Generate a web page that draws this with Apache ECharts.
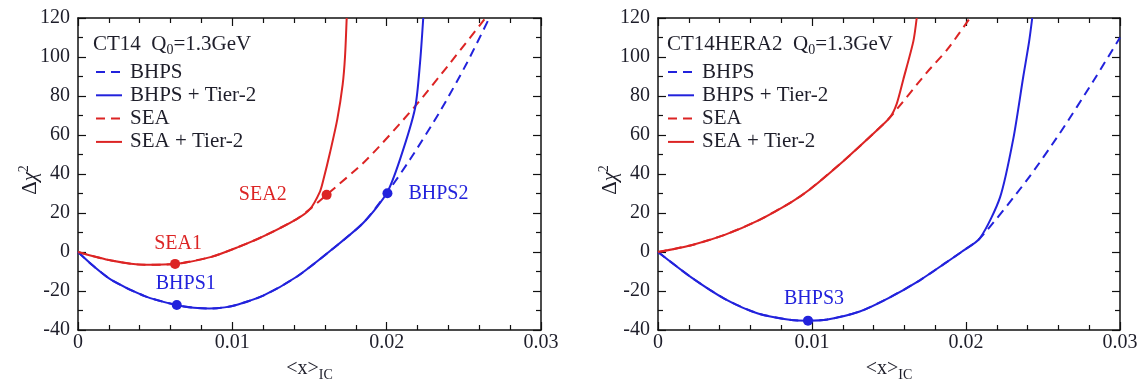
<!DOCTYPE html>
<html>
<head>
<meta charset="utf-8">
<script src="https://cdn.jsdelivr.net/npm/echarts@6/dist/echarts.min.js"></script>
<style>
  html, body { margin: 0; padding: 0; background: #fff; }
  #chart { width: 1142px; height: 387px; }
</style>
</head>
<body>
<div id="chart"></div>
<script>
// CT14 panel (left)
const ct14BhpsX = [0, 0.001, 0.00216, 0.00432, 0.00637, 0.0075, 0.0085, 0.0095, 0.01037, 0.012, 0.01417, 0.01633, 0.01849, 0.02]
const ct14BhpsY = [0, -7.2, -14.3, -22.6, -27.2, -28.6, -29.0, -28.4, -26.9, -22.4, -12.7, 0.5, 15, 30.1]
const ct14BhpsDashX = [0.02151, 0.02346, 0.02519, 0.02665]
const ct14BhpsDashY = [47.4, 72.1, 96.8, 120]
const ct14BhpsTier2X = [0.02086, 0.02184, 0.02216, 0.02237]
const ct14BhpsTier2Y = [47.4, 73.7, 96.8, 120]
const ct14SeaX = [0, 0.00216, 0.00432, 0.00626, 0.00864, 0.01037, 0.012, 0.01417, 0.01503]
const ct14SeaY = [0, -4.4, -6.6, -6.2, -2.5, 2.5, 8.0, 16.9, 22]
const ct14SeaDashX = [0.01611, 0.01871, 0.02173, 0.0241, 0.0264]
const ct14SeaDashY = [29.3, 47.4, 73.7, 96.8, 120]
const ct14SeaTier2X = [0.01568, 0.0159, 0.01633, 0.0168, 0.01715, 0.0173, 0.01741]
const ct14SeaTier2Y = [31, 37, 51, 68, 86, 100, 120]
const ct14PointNames = ['SEA1', 'SEA2', 'BHPS1', 'BHPS2']
const ct14PointX = [0.00629, 0.01611, 0.0064, 0.02005]
const ct14PointY = [-6.1, 29.3, -27.2, 30.1]

// CT14HERA2 panel (right)
const hera2BhpsX = [0, 0.00216, 0.00433, 0.00649, 0.00866, 0.00974, 0.011, 0.0131, 0.015, 0.017, 0.0186, 0.0197, 0.02091]
const hera2BhpsY = [0, -13, -24, -31.5, -34.9, -35.2, -34.6, -30.5, -23.5, -14.5, -6, 0, 7.1]
const hera2BhpsDashX = [0.02394, 0.0261, 0.02827, 0.03]
const hera2BhpsDashY = [36.7, 61, 87.7, 110]
const hera2BhpsTier2X = [0.02221, 0.02307, 0.02372, 0.0241, 0.0243]
const hera2BhpsTier2Y = [28, 58, 90, 108, 120]
const hera2SeaX = [0, 0.00216, 0.00433, 0.00649, 0.00866, 0.00987, 0.01203, 0.0142, 0.01506]
const hera2SeaY = [0, 3.5, 8.8, 16.1, 25.6, 32.2, 46.6, 62.3, 69]
const hera2SeaDashX = [0.01745, 0.0188, 0.02026]
const hera2SeaDashY = [92, 104, 120]
const hera2SeaTier2X = [0.0155, 0.01593, 0.01658, 0.0168]
const hera2SeaTier2Y = [76, 88.5, 108, 120]
const hera2PointNames = ['BHPS3']
const hera2PointX = [0.00974]
const hera2PointY = [-35.2]

const legendNames = ['BHPS', 'BHPS + Tier-2', 'SEA', 'SEA + Tier-2']
const xTicks = { min: 0, max: 0.03, interval: 0.01 }
const yTicks = { min: -40, max: 120, interval: 20 }

const FONT = '"Liberation Serif", "DejaVu Serif", serif'
const RED = '#dc2424'
const BLUE = '#2222dc'
const TEXT = '#1e1e2a'

function pairs(xs, ys) {
  return xs.map((x, i) => [x, ys[i]])
}

function curve(name, xs, ys, color, dashed, idx) {
  return {
    name: name,
    type: 'line',
    xAxisIndex: idx * 2,
    yAxisIndex: idx * 2,
    data: pairs(xs, ys),
    symbol: 'none',
    smooth: 0.25,
    lineStyle: { color: color, width: 2, type: dashed ? [9, 6] : 'solid' },
    itemStyle: { color: color },
    z: dashed ? 2 : 3
  }
}

function points(names, xs, ys, labelCfg, idx) {
  return {
    type: 'scatter',
    xAxisIndex: idx * 2,
    yAxisIndex: idx * 2,
    symbolSize: 10,
    z: 5,
    data: names.map((n, i) => ({
      name: n,
      value: [xs[i], ys[i]],
      itemStyle: { color: labelCfg[n].color, opacity: 1 },
      label: Object.assign({
        show: true,
        formatter: n,
        fontFamily: FONT,
        fontSize: 20,
        color: labelCfg[n].color
      }, labelCfg[n].label)
    }))
  }
}

function xAxis(grid, top) {
  return {
    type: 'value',
    gridIndex: grid,
    position: top ? 'top' : 'bottom',
    min: xTicks.min, max: xTicks.max, interval: xTicks.interval,
    name: top ? '' : '<x>{sub|IC}',
    nameLocation: 'middle',
    nameGap: 26,
    nameTextStyle: {
      fontFamily: FONT, fontSize: 20, color: TEXT,
      rich: { sub: { fontFamily: FONT, fontSize: 14, color: TEXT, padding: [12, 0, 0, 0] } }
    },
    axisLine: { show: true, onZero: false, lineStyle: { color: '#111', width: 1.5 } },
    axisTick: { show: true, inside: true, length: 8, lineStyle: { color: '#111', width: 1.2 } },
    minorTick: { show: true, splitNumber: 5, length: 5, lineStyle: { color: '#111', width: 1.2 } },
    axisLabel: { show: !top, margin: 3, fontFamily: FONT, fontSize: 20, color: TEXT },
    splitLine: { show: false }
  }
}

function yAxis(grid, right) {
  return {
    type: 'value',
    gridIndex: grid,
    position: right ? 'right' : 'left',
    min: yTicks.min, max: yTicks.max, interval: yTicks.interval,
    axisLine: { show: true, onZero: false, lineStyle: { color: '#111', width: 1.5 } },
    axisTick: { show: true, inside: true, length: 8, lineStyle: { color: '#111', width: 1.2 } },
    minorTick: { show: true, splitNumber: 2, length: 5, lineStyle: { color: '#111', width: 1.2 } },
    axisLabel: { show: !right, margin: 8, fontFamily: FONT, fontSize: 20, color: TEXT },
    splitLine: { show: false }
  }
}

// rotated y-axis title, placed beside each grid
function yName(x) {
  return {
    type: 'text',
    x: x,
    y: 180,
    rotation: Math.PI / 2,
    style: {
      text: 'Δ{chi|χ}{sup|2}',
      align: 'center',
      verticalAlign: 'middle',
      font: '21px ' + FONT,
      fill: TEXT,
      rich: {
        chi: { fontFamily: FONT, fontSize: 21, fontStyle: 'italic', fill: TEXT, color: TEXT },
        sup: { fontFamily: FONT, fontSize: 14, fill: TEXT, color: TEXT, padding: [0, 0, 12, 0] }
      }
    }
  }
}

function legend(left) {
  return {
    orient: 'vertical',
    left: left,
    top: 61,
    padding: 0,
    itemWidth: 26,
    itemHeight: 12,
    itemGap: 1.3,
    selectedMode: false,
    itemStyle: { opacity: 0 },
    lineStyle: { width: 2 },
    textStyle: { fontFamily: FONT, fontSize: 21, color: TEXT, lineHeight: 22, padding: [0, 0, 0, 3] },
    data: legendNames
  }
}

function title(text, left) {
  return {
    text: text,
    left: left,
    top: 31,
    padding: 0,
    textStyle: {
      fontFamily: FONT, fontSize: 21, fontWeight: 'normal', color: TEXT,
      rich: { sub: { fontFamily: FONT, fontSize: 14, color: TEXT, padding: [12, 0, 0, 0] } }
    }
  }
}

const ct14Labels = {
  SEA1: { color: RED, label: { position: 'top', distance: 5, offset: [3, 0] } },
  SEA2: { color: RED, label: { position: 'left', distance: 35 } },
  BHPS1: { color: BLUE, label: { position: 'top', distance: 6, offset: [9, 0] } },
  BHPS2: { color: BLUE, label: { position: 'right', distance: 16 } }
}
const hera2Labels = {
  BHPS3: { color: BLUE, label: { position: 'top', distance: 7, offset: [6, 0] } }
}

const chart = echarts.init(document.getElementById('chart'))
const option = {
  animation: false,
  backgroundColor: '#fff',
  title: [
    title('CT14  Q{sub|0}=1.3GeV', 93),
    title('CT14HERA2  Q{sub|0}=1.3GeV', 667)
  ],
  legend: [legend(95), legend(667)],
  graphic: [yName(30), yName(610)],
  grid: [
    { left: 78, top: 18, width: 463, height: 324 },
    { left: 658, top: 18, width: 462, height: 324 }
  ],
  xAxis: [xAxis(0, false), xAxis(0, true), xAxis(1, false), xAxis(1, true)],
  yAxis: [yAxis(0, false), yAxis(0, true), yAxis(1, false), yAxis(1, true)],
  series: [
    curve('BHPS', ct14BhpsX.concat(ct14BhpsDashX), ct14BhpsY.concat(ct14BhpsDashY), BLUE, true, 0),
    curve('BHPS + Tier-2', ct14BhpsX.concat(ct14BhpsTier2X), ct14BhpsY.concat(ct14BhpsTier2Y), BLUE, false, 0),
    curve('SEA', ct14SeaX.concat(ct14SeaDashX), ct14SeaY.concat(ct14SeaDashY), RED, true, 0),
    curve('SEA + Tier-2', ct14SeaX.concat(ct14SeaTier2X), ct14SeaY.concat(ct14SeaTier2Y), RED, false, 0),
    points(ct14PointNames, ct14PointX, ct14PointY, ct14Labels, 0),
    curve('BHPS', hera2BhpsX.concat(hera2BhpsDashX), hera2BhpsY.concat(hera2BhpsDashY), BLUE, true, 1),
    curve('BHPS + Tier-2', hera2BhpsX.concat(hera2BhpsTier2X), hera2BhpsY.concat(hera2BhpsTier2Y), BLUE, false, 1),
    curve('SEA', hera2SeaX.concat(hera2SeaDashX), hera2SeaY.concat(hera2SeaDashY), RED, true, 1),
    curve('SEA + Tier-2', hera2SeaX.concat(hera2SeaTier2X), hera2SeaY.concat(hera2SeaTier2Y), RED, false, 1),
    points(hera2PointNames, hera2PointX, hera2PointY, hera2Labels, 1)
  ]
}
chart.setOption(option)
</script>
</body>
</html>
